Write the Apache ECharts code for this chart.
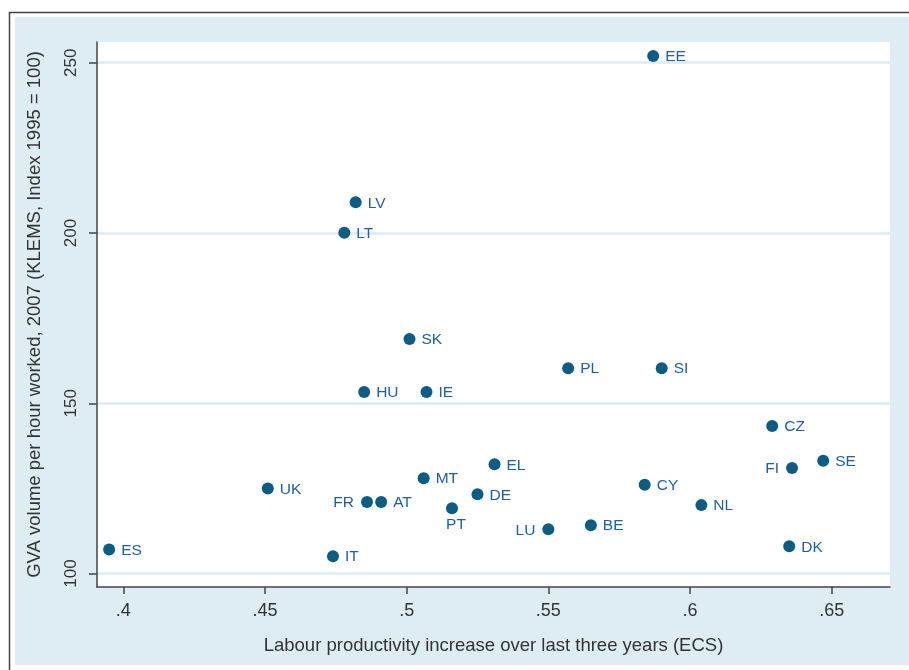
<!DOCTYPE html>
<html>
<head>
<meta charset="utf-8">
<script src="https://cdn.jsdelivr.net/npm/echarts@6/dist/echarts.min.js"></script>
<style>
  html, body { margin: 0; padding: 0; background: #fff; }
  #chart { width: 909px; height: 670px; }
</style>
</head>
<body>
<div id="chart"></div>
<script>
// country codes and values
const countries = ['EE', 'LV', 'LT', 'SK', 'PL', 'SI', 'HU', 'IE', 'CZ', 'SE', 'FI', 'EL', 'MT',
  'UK', 'CY', 'DE', 'FR', 'AT', 'PT', 'NL', 'BE', 'LU', 'DK', 'ES', 'IT']
const productivityIncrease = [0.587, 0.482, 0.478, 0.501, 0.557, 0.590, 0.485, 0.507, 0.629, 0.647,
  0.636, 0.531, 0.506, 0.451, 0.584, 0.525, 0.486, 0.491, 0.516, 0.604, 0.565, 0.550, 0.635, 0.395, 0.474]
const gvaPerHour = [252, 209, 200.1, 168.9, 160.3, 160.3, 153.3, 153.3, 143.3, 133.1, 131.0, 132.1, 128.0,
  125.0, 126.1, 123.3, 121.0, 121.0, 119.2, 120.1, 114.2, 113.0, 108.0, 107.1, 105.1]
const xTicks = [0.4, 0.45, 0.5, 0.55, 0.6, 0.65]
const yTicks = [100, 150, 200, 250]

// labels that sit on another side of the marker
const leftLabels = ['FR', 'LU', 'FI']
const belowLabels = ['PT']

const axisText = '#333'
const markerColor = '#0b5d86'
const labelColor = '#1f5ea8'

const chart = echarts.init(document.getElementById('chart'))

const points = countries.map((c, i) => {
  let label = { position: 'right', distance: 6, offset: [0, 1] }
  if (leftLabels.includes(c)) label = { position: 'left', distance: 7, offset: [0, 1] }
  if (belowLabels.includes(c)) label = { position: 'bottom', distance: 3, offset: [4, 0] }
  return { name: c, value: [productivityIncrease[i], gvaPerHour[i]], label }
})

chart.setOption({
  backgroundColor: '#fff',
  animation: false,
  textStyle: { fontFamily: 'Liberation Sans, Arial, sans-serif' },
  graphic: [
    {
      type: 'rect', z: -20, silent: true,
      shape: { x: 9.5, y: 12.5, width: 920, height: 700 },
      style: { fill: '#fff', stroke: '#444', lineWidth: 1.5 },
    },
    {
      type: 'rect', z: -10, silent: true,
      shape: { x: 15, y: 17, width: 900, height: 648 },
      style: { fill: '#deedf3' },
    },
  ],
  grid: {
    left: 97, top: 42, right: 19, bottom: 83,
    show: true, backgroundColor: '#fff', borderWidth: 0,
  },
  xAxis: {
    type: 'value',
    min: 0.39072,
    max: 0.67057,
    name: 'Labour productivity increase over last three years (ECS)',
    nameLocation: 'middle',
    nameGap: 49,
    nameTextStyle: { color: axisText, fontSize: 18.5 },
    axisLine: { show: true, lineStyle: { color: '#444', width: 1.5 } },
    axisTick: { show: true, length: 7, customValues: xTicks, lineStyle: { color: '#444', width: 1.5 } },
    axisLabel: {
      color: axisText, fontSize: 18, margin: 15,
      customValues: xTicks,
      formatter: (v) => String(+v.toFixed(2)).replace(/^0/, ''),
    },
    splitLine: { show: false },
  },
  yAxis: {
    type: 'value',
    min: 96.06,
    max: 256.08,
    name: 'GVA volume per hour worked, 2007 (KLEMS, Index 1995 = 100)',
    nameLocation: 'middle',
    nameGap: 53,
    nameTextStyle: { color: axisText, fontSize: 18.5 },
    axisLine: { show: true, lineStyle: { color: '#444', width: 1.5 } },
    axisTick: { show: true, length: 8, customValues: yTicks, lineStyle: { color: '#444', width: 1.5 } },
    axisLabel: {
      color: axisText, fontSize: 17, margin: 17, rotate: 90,
      customValues: yTicks,
    },
    splitLine: { show: true, lineStyle: { color: '#dceaf1', width: 2.5 } },
  },
  series: [
    {
      type: 'scatter',
      symbol: 'circle',
      symbolSize: 12,
      itemStyle: { color: markerColor, opacity: 1 },
      label: {
        show: true,
        formatter: '{b}',
        color: labelColor,
        fontSize: 15.5,
      },
      data: points,
    },
  ],
})
</script>
</body>
</html>
